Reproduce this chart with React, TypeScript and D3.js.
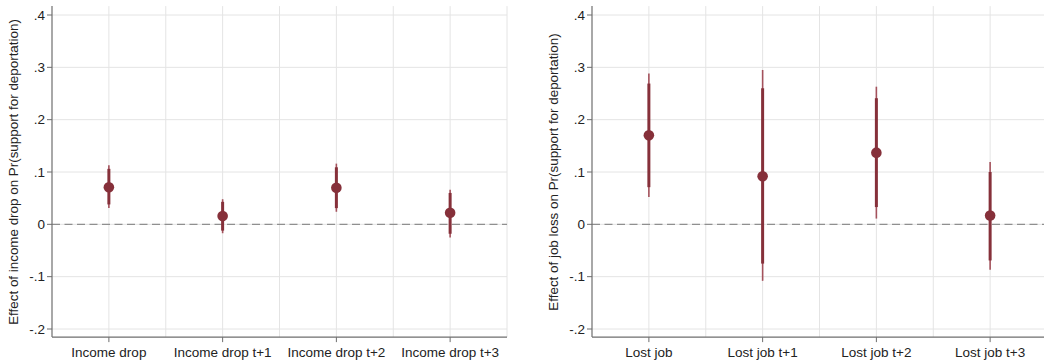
import React from "react";
import * as d3 from "d3";

const incomeCats = ["Income drop", "Income drop t+1", "Income drop t+2", "Income drop t+3"];
const incomeEst = [0.071, 0.016, 0.070, 0.022];
const incomeThinLo = [0.031, -0.017, 0.024, -0.025];
const incomeThinHi = [0.113, 0.048, 0.116, 0.066];
const incomeThickLo = [0.038, -0.012, 0.031, -0.018];
const incomeThickHi = [0.106, 0.043, 0.109, 0.060];

const jobCats = ["Lost job", "Lost job t+1", "Lost job t+2", "Lost job t+3"];
const jobEst = [0.170, 0.092, 0.137, 0.017];
const jobThinLo = [0.052, -0.108, 0.011, -0.087];
const jobThinHi = [0.288, 0.295, 0.263, 0.119];
const jobThickLo = [0.071, -0.075, 0.033, -0.069];
const jobThickHi = [0.269, 0.260, 0.241, 0.100];

const yTicks = [-0.2, -0.1, 0, 0.1, 0.2, 0.3, 0.4];
const yTickLabels = ["-.2", "-.1", "0", ".1", ".2", ".3", ".4"];

const FONT = "'Liberation Sans', Arial, Helvetica, sans-serif";
const DARK = "#86303a";
const LIGHT = "#a4525c";

type PanelProps = {
  x0: number;
  cats: string[];
  est: number[];
  thinLo: number[];
  thinHi: number[];
  thickLo: number[];
  thickHi: number[];
  ylabel: string;
  labelX: number;
};

function Panel({ x0, cats, est, thinLo, thinHi, thickLo, thickHi, ylabel, labelX }: PanelProps) {
  const y = d3.scaleLinear().domain([-0.2, 0.4]).range([329, 15]);
  const x = d3.scaleLinear().domain([0.5, 4.5]).range([x0, x0 + 455]);
  const yTop = y(0.417);
  const yBot = y(-0.2155);
  const xGrid = d3.range(1, 9).map((i) => 0.5 + i * 0.5).filter((v) => v <= 4.5);
  return (
    <g>
      {yTicks.map((t, i) => (
        <line key={"hg" + i} x1={x(0.5)} x2={x(4.5)} y1={y(t)} y2={y(t)} stroke="#e4e4e4" strokeWidth={1} />
      ))}
      {xGrid.map((v, i) => (
        <line key={"vg" + i} x1={x(v)} x2={x(v)} y1={yTop} y2={yBot} stroke="#e4e4e4" strokeWidth={1} />
      ))}
      <line x1={x(0.5)} x2={x(4.5)} y1={y(0)} y2={y(0)} stroke="#8f8f8f" strokeWidth={1.3} strokeDasharray="8,4.5" />
      <line x1={x(0.5)} x2={x(0.5)} y1={yTop} y2={yBot} stroke="#6e6e6e" strokeWidth={1.2} />
      <line x1={x(0.5)} x2={x(4.5)} y1={yBot} y2={yBot} stroke="#6e6e6e" strokeWidth={1.2} />
      {yTicks.map((t, i) => (
        <g key={"yt" + i}>
          <line x1={x(0.5) - 5} x2={x(0.5)} y1={y(t)} y2={y(t)} stroke="#6e6e6e" strokeWidth={1} />
          <text x={x(0.5) - 7} y={y(t)} dy="0.35em" textAnchor="end" fontFamily={FONT} fontSize={13.5} fill="#222">
            {yTickLabels[i]}
          </text>
        </g>
      ))}
      {cats.map((c, i) => (
        <g key={"xt" + i}>
          <line x1={x(i + 1)} x2={x(i + 1)} y1={yBot} y2={yBot + 5} stroke="#6e6e6e" strokeWidth={1} />
          <text x={x(i + 1)} y={yBot + 15} dy="0.35em" textAnchor="middle" fontFamily={FONT} fontSize={13.5} fill="#222">
            {c}
          </text>
        </g>
      ))}
      <text
        transform={`translate(${labelX},${(y(-0.2) + y(0.4)) / 2}) rotate(-90)`}
        textAnchor="middle"
        dy="0.35em"
        fontFamily={FONT}
        fontSize={13.4}
        fill="#222"
      >
        {ylabel}
      </text>
      {cats.map((c, i) => (
        <g key={"pt" + i}>
          <line x1={x(i + 1)} x2={x(i + 1)} y1={y(thinLo[i])} y2={y(thinHi[i])} stroke={LIGHT} strokeWidth={1.6} />
          <line x1={x(i + 1)} x2={x(i + 1)} y1={y(thickLo[i])} y2={y(thickHi[i])} stroke={DARK} strokeWidth={3} />
          <circle cx={x(i + 1)} cy={y(est[i])} r={5.3} fill={DARK} />
        </g>
      ))}
    </g>
  );
}

export default function App() {
  return (
    <svg width={1044} height={361} style={{ position: "absolute", left: 0, top: 0, background: "#fff" }}>
      <rect width={1044} height={361} fill="#fff" />
      <Panel
        x0={52}
        cats={incomeCats}
        est={incomeEst}
        thinLo={incomeThinLo}
        thinHi={incomeThinHi}
        thickLo={incomeThickLo}
        thickHi={incomeThickHi}
        ylabel="Effect of income drop on Pr(support for deportation)"
        labelX={13}
      />
      <Panel
        x0={592}
        cats={jobCats}
        est={jobEst}
        thinLo={jobThinLo}
        thinHi={jobThinHi}
        thickLo={jobThickLo}
        thickHi={jobThickHi}
        ylabel="Effect of job loss on Pr(support for deportation)"
        labelX={553}
      />
    </svg>
  );
}
